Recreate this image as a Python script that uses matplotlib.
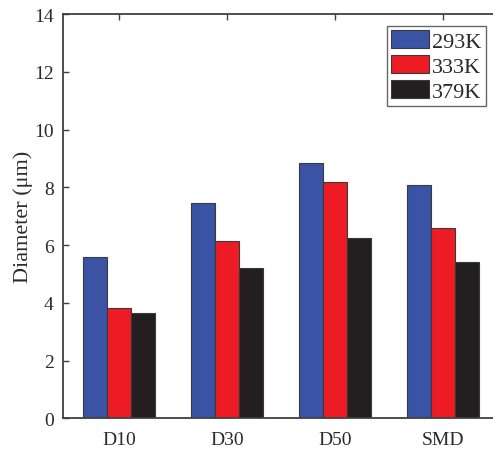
import matplotlib
matplotlib.use("Agg")
import matplotlib.pyplot as plt
import numpy as np

categories = ["D10", "D30", "D50", "SMD"]
series_labels = ["293K", "333K", "379K"]
values_293 = [5.60, 7.45, 8.84, 8.08]
values_333 = [3.83, 6.13, 8.17, 6.58]
values_379 = [3.64, 5.22, 6.25, 5.42]
colors = ["#3A53A4", "#ED1C24", "#231F20"]

plt.rcParams["font.family"] = ["Liberation Serif", "DejaVu Serif"]
plt.rcParams["mathtext.fontset"] = "stix"

W, H = 493, 452
fig = plt.figure(figsize=(W / 100, H / 100), dpi=100)

left_px, right_px = 63.5, 497.0
top_px, bottom_px = 15.0, 419.3
ax = fig.add_axes([left_px / W, 1 - bottom_px / H,
                   (right_px - left_px) / W, (bottom_px - top_px) / H])

x = np.arange(1, len(categories) + 1)
width = 0.222
for i, (vals, lab) in enumerate(zip([values_293, values_333, values_379], series_labels)):
    ax.bar(x + (i - 1) * width, vals, width, color=colors[i], label=lab,
           edgecolor="#3a3a3a", linewidth=0.8, zorder=2)

ax.set_xlim(0.485, 4.5)
ax.set_ylim(0, 14)
ax.set_xticks(x)
ax.set_xticklabels(categories)
ax.set_yticks(np.arange(0, 15, 2))
ax.tick_params(axis="both", direction="in", length=4.5, width=1.0, color="#404040",
               labelsize=14, labelcolor="#2a2a2a", pad=7)
ax.tick_params(axis="x", top=True, pad=9)
for s in ax.spines.values():
    s.set_color("#404040")
    s.set_linewidth(1.3)
    s.set_zorder(3)

ax.set_ylabel("Diameter (μm)", fontsize=16, color="#2a2a2a", labelpad=1)

leg = ax.legend(loc="upper right", bbox_to_anchor=(486 / W, 1 - 27 / H),
                bbox_transform=fig.transFigure, borderaxespad=0,
                fontsize=16, frameon=True, fancybox=False, framealpha=1,
                edgecolor="#666666", handlelength=1.7, handleheight=0.85,
                handletextpad=0.15, borderpad=0.2, labelspacing=0.15)
leg.get_frame().set_linewidth(1.0)
for t in leg.get_texts():
    t.set_color("#2a2a2a")

fig.savefig("out.png", dpi=100)
